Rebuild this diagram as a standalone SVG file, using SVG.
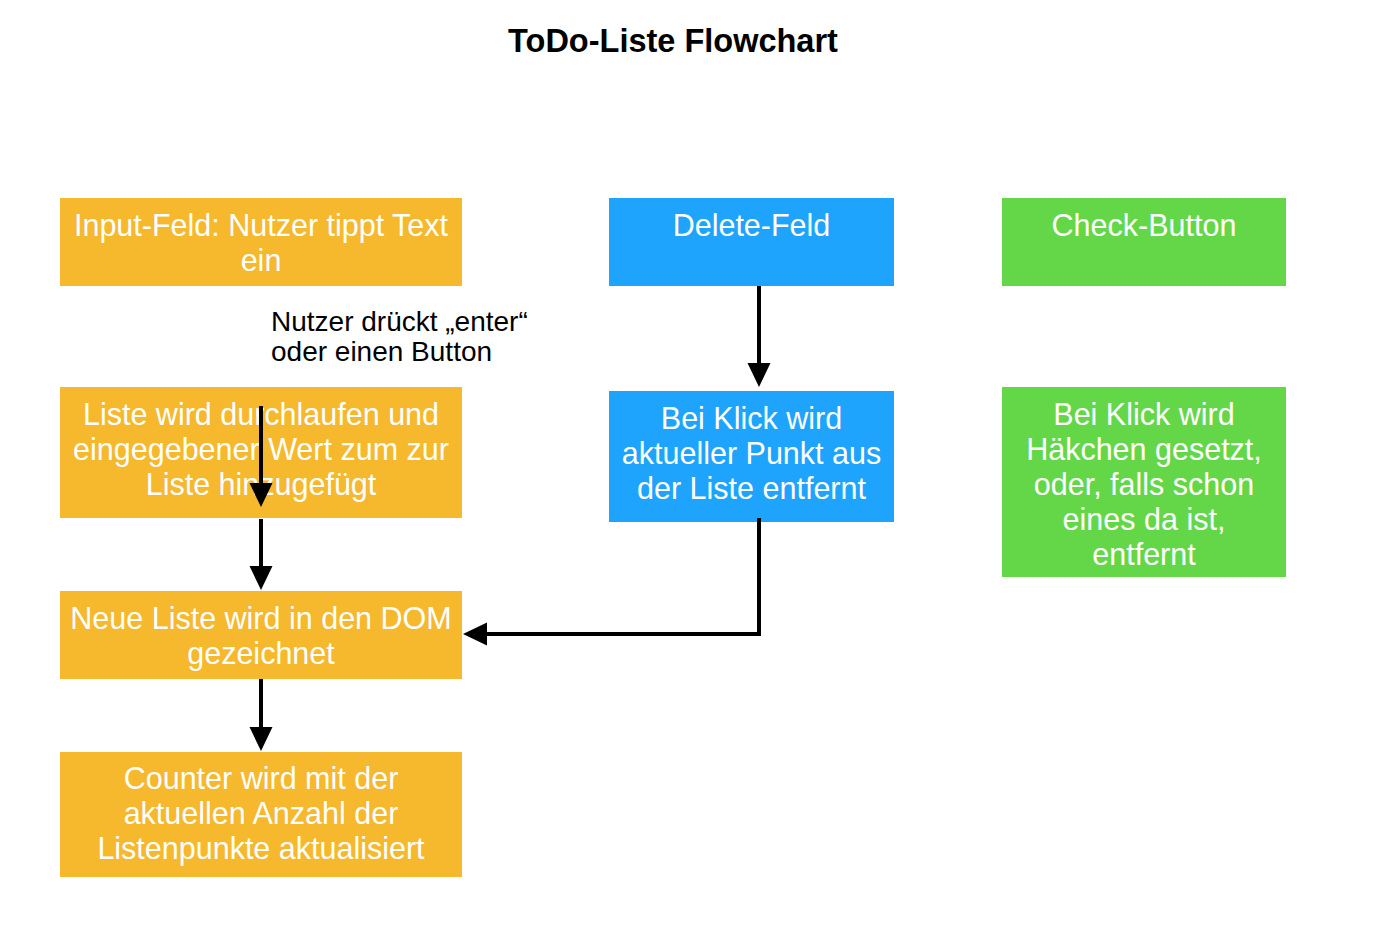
<svg xmlns="http://www.w3.org/2000/svg" width="1382" height="930" viewBox="0 0 1382 930">
<style>
.orange{fill:#F6B82D}
.blue{fill:#1EA4FC}
.green{fill:#64D749}
.t{font-family:"Liberation Sans",Arial,Helvetica,sans-serif;font-size:30.5px;fill:#ffffff;text-anchor:middle}
.lbl{font-family:"Liberation Sans",Arial,Helvetica,sans-serif;font-size:28px;fill:#000000}
.title{font-family:"Liberation Sans",Arial,Helvetica,sans-serif;font-size:32.5px;font-weight:bold;fill:#000000;text-anchor:middle}
.conn{fill:none;stroke:#000000;stroke-width:4;marker-end:url(#arr)}
</style>
<defs>
<marker id="arr" markerUnits="userSpaceOnUse" markerWidth="24" markerHeight="24" refX="14" refY="11.5" orient="auto">
<path d="M0,0 L24,11.5 L0,23 Z" fill="#000000"/>
</marker>
</defs>
<rect width="1382" height="930" fill="#ffffff"/>
<text class="title" x="673" y="52">ToDo-Liste Flowchart</text>

<g id="input">
<rect class="orange" x="60" y="198" width="402" height="88"/>
<text class="t" x="261" y="236">Input-Feld: Nutzer tippt Text</text>
<text class="t" x="261" y="271">ein</text>
</g>
<g id="liste">
<rect class="orange" x="60" y="387" width="402" height="131"/>
<text class="t" x="261" y="425">Liste wird durchlaufen und</text>
<text class="t" x="261" y="460">eingegebener Wert zum zur</text>
<text class="t" x="261" y="495">Liste hinzugefügt</text>
</g>
<g id="dom">
<rect class="orange" x="60" y="591" width="402" height="88"/>
<text class="t" x="261" y="629">Neue Liste wird in den DOM</text>
<text class="t" x="261" y="664">gezeichnet</text>
</g>
<g id="counter">
<rect class="orange" x="60" y="752" width="402" height="125"/>
<text class="t" x="261" y="789">Counter wird mit der</text>
<text class="t" x="261" y="824">aktuellen Anzahl der</text>
<text class="t" x="261" y="859">Listenpunkte aktualisiert</text>
</g>
<g id="delete">
<rect class="blue" x="609" y="198" width="285" height="88"/>
<text class="t" x="751.5" y="236">Delete-Feld</text>
</g>
<g id="delete-klick">
<rect class="blue" x="609" y="391" width="285" height="131"/>
<text class="t" x="751.5" y="429">Bei Klick wird</text>
<text class="t" x="751.5" y="464">aktueller Punkt aus</text>
<text class="t" x="751.5" y="499">der Liste entfernt</text>
</g>
<g id="check">
<rect class="green" x="1002" y="198" width="284" height="88"/>
<text class="t" x="1144" y="236">Check-Button</text>
</g>
<g id="check-klick">
<rect class="green" x="1002" y="387" width="284" height="190"/>
<text class="t" x="1144" y="425">Bei Klick wird</text>
<text class="t" x="1144" y="460">Häkchen gesetzt,</text>
<text class="t" x="1144" y="495">oder, falls schon</text>
<text class="t" x="1144" y="530">eines da ist,</text>
<text class="t" x="1144" y="565">entfernt</text>
</g>

<g id="connectors">
<path class="conn" d="M261,406 L261,497"/>
<path class="conn" d="M261,519 L261,580"/>
<path class="conn" d="M261,679 L261,741"/>
<path class="conn" d="M759,286 L759,377"/>
<path class="conn" d="M759,518 L759,634 L473,634"/>
<g id="connector-label">
<text class="lbl" x="271" y="331">Nutzer drückt „enter“</text>
<text class="lbl" x="271" y="361">oder einen Button</text>
</g>
</g>
</svg>
